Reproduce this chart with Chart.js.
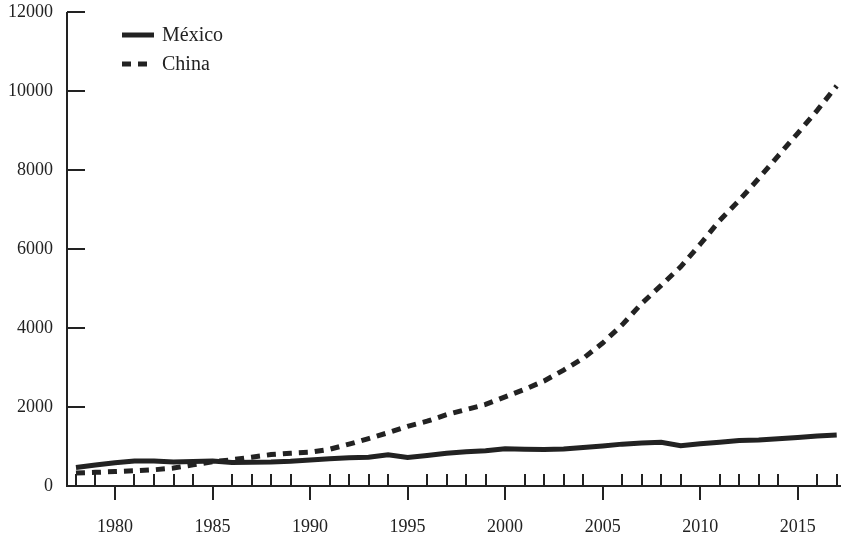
<!DOCTYPE html>
<html>
<head>
<meta charset="utf-8">
<title>México y China</title>
<script src="https://cdn.jsdelivr.net/npm/chart.js@4.4.0/dist/chart.umd.min.js"></script>
<style>
  body { margin: 0; background: #fff; }
</style>
</head>
<body>
<canvas id="chart" width="841" height="538"></canvas>
<script>
// Data
const years = [
  1978, 1979, 1980, 1981, 1982, 1983, 1984, 1985, 1986, 1987,
  1988, 1989, 1990, 1991, 1992, 1993, 1994, 1995, 1996, 1997,
  1998, 1999, 2000, 2001, 2002, 2003, 2004, 2005, 2006, 2007,
  2008, 2009, 2010, 2011, 2012, 2013, 2014, 2015, 2016, 2017
];
const mexico = [
  470, 530, 590, 635, 630, 605, 620, 635, 595, 600,
  605, 625, 660, 690, 715, 730, 790, 720, 770, 830,
  870, 895, 940, 930, 925, 935, 975, 1015, 1060, 1090,
  1105, 1020, 1070, 1110, 1150, 1165, 1195, 1230, 1265, 1290
];
const china = [
  330, 345, 365, 385, 410, 455, 535, 615, 665, 730,
  795, 830, 855, 930, 1060, 1200, 1350, 1510, 1640, 1805,
  1935, 2065, 2255, 2445, 2660, 2935, 3230, 3620, 4080, 4620,
  5080, 5550, 6120, 6720, 7230, 7785, 8360, 8930, 9510, 10130
];
const xLabels = [1980, 1985, 1990, 1995, 2000, 2005, 2010, 2015];
const yTicks = [0, 2000, 4000, 6000, 8000, 10000, 12000];

const ink = '#222';
Chart.defaults.font.family = '"Liberation Serif", serif';
Chart.defaults.color = ink;

// Axis lines and tick marks (minor ticks up, major ticks down, y ticks inward)
const axisTicks = {
  id: 'axisTicks',
  beforeDatasetsDraw(chart) {
    const { ctx, chartArea, scales: { x, y } } = chart;
    ctx.save();
    ctx.strokeStyle = ink;
    ctx.lineWidth = 2;
    ctx.beginPath();
    ctx.moveTo(chartArea.left, chartArea.top);
    ctx.lineTo(chartArea.left, chartArea.bottom);
    ctx.lineTo(chartArea.right, chartArea.bottom);
    years.forEach(yr => {
      const px = Math.round(x.getPixelForValue(yr));
      ctx.moveTo(px, chartArea.bottom);
      if (yr % 5 === 0) ctx.lineTo(px, chartArea.bottom + 14);
      else ctx.lineTo(px, chartArea.bottom - 12);
    });
    yTicks.forEach(v => {
      const py = Math.round(y.getPixelForValue(v));
      ctx.moveTo(chartArea.left, py);
      ctx.lineTo(chartArea.left + 18, py);
    });
    ctx.stroke();
    ctx.restore();
  }
};

// Legend in the top left corner
const cornerLegend = {
  id: 'cornerLegend',
  afterDraw(chart) {
    const { ctx } = chart;
    ctx.save();
    chart.data.datasets.forEach((ds, i) => {
      const yy = 35 + i * 29;
      ctx.strokeStyle = ds.borderColor;
      ctx.lineWidth = ds.borderWidth;
      ctx.setLineDash(ds.borderDash || []);
      ctx.beginPath();
      ctx.moveTo(122, yy);
      ctx.lineTo(154, yy);
      ctx.stroke();
      ctx.setLineDash([]);
      ctx.fillStyle = ink;
      ctx.font = '20px "Liberation Serif", serif';
      ctx.textBaseline = 'middle';
      ctx.fillText(ds.label, 162, yy + 1);
    });
    ctx.restore();
  }
};

new Chart(document.getElementById('chart'), {
  type: 'line',
  data: {
    datasets: [
      {
        label: 'México',
        data: years.map((yr, i) => ({ x: yr, y: mexico[i] })),
        borderColor: ink,
        borderWidth: 5,
        pointRadius: 0,
        tension: 0
      },
      {
        label: 'China',
        data: years.map((yr, i) => ({ x: yr, y: china[i] })),
        borderColor: ink,
        borderWidth: 5,
        borderDash: [9, 7],
        borderCapStyle: 'butt',
        pointRadius: 0,
        tension: 0
      }
    ]
  },
  options: {
    responsive: false,
    animation: false,
    devicePixelRatio: 1,
    layout: { padding: { top: 12, right: 0, left: 0, bottom: 0 } },
    plugins: {
      legend: { display: false },
      tooltip: { enabled: false }
    },
    scales: {
      x: {
        type: 'linear',
        min: 1977.54,
        max: 2017.22,
        grid: { display: false, drawTicks: false },
        border: { display: false },
        afterBuildTicks: (scale) => { scale.ticks = xLabels.map(v => ({ value: v })); },
        afterFit: (scale) => {
          scale.height = 52;
          scale.paddingLeft = 0;
          scale.paddingRight = 0;
        },
        ticks: {
          padding: 30,
          maxRotation: 0,
          autoSkip: false,
          font: { size: 18 },
          callback: (v) => String(v)
        }
      },
      y: {
        min: 0,
        max: 12000,
        grid: { display: false, drawTicks: false },
        border: { display: false },
        afterBuildTicks: (scale) => { scale.ticks = yTicks.map(v => ({ value: v })); },
        afterFit: (scale) => {
          scale.width = 67;
          scale.paddingTop = 0;
          scale.paddingBottom = 0;
        },
        ticks: {
          padding: 14,
          font: { size: 18 },
          callback: (v) => String(v)
        }
      }
    }
  },
  plugins: [axisTicks, cornerLegend]
});
</script>
</body>
</html>
